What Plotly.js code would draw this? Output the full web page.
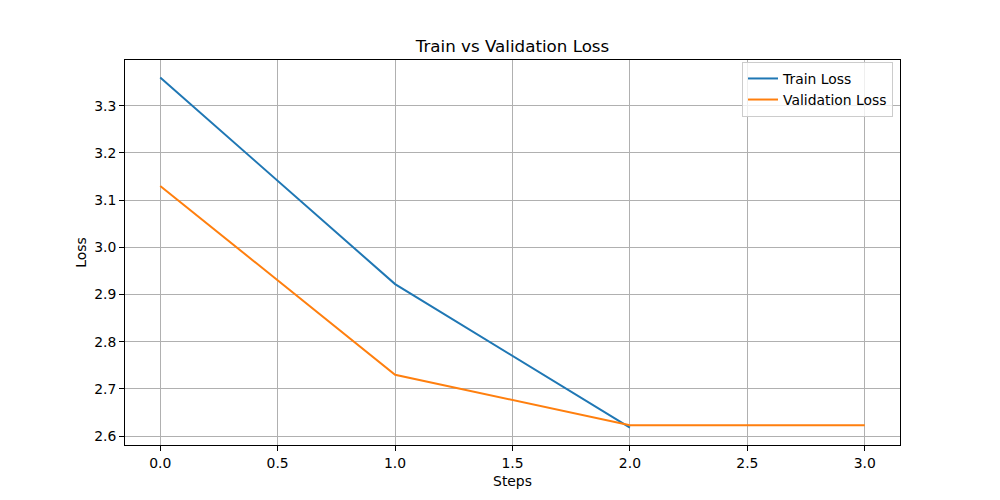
<!DOCTYPE html>
<html><head><meta charset="utf-8">
<script src="https://cdn.plot.ly/plotly-3.0.1.min.js"></script>
<style>html,body{margin:0;padding:0;background:#fff}#chart{width:1000px;height:500px}</style>
</head><body><div id="chart"></div>
<script>
const trainSteps = [0, 1, 2];
const trainLoss = [3.360, 2.922, 2.618];
const valSteps = [0, 1, 2, 3];
const valLoss = [3.130, 2.730, 2.623, 2.623];
const xTicks = [0, 0.5, 1, 1.5, 2, 2.5, 3];
const xTickLabels = ['0.0', '0.5', '1.0', '1.5', '2.0', '2.5', '3.0'];
const yTicks = [2.6, 2.7, 2.8, 2.9, 3.0, 3.1, 3.2, 3.3];
const yTickLabels = ['2.6', '2.7', '2.8', '2.9', '3.0', '3.1', '3.2', '3.3'];

const font = {family: 'DejaVu Sans', size: 13.9, color: '#000'};
const traces = [
  {x: trainSteps, y: trainLoss, mode: 'lines', name: 'Train Loss', line: {color: '#1f77b4', width: 2}},
  {x: valSteps, y: valLoss, mode: 'lines', name: 'Validation Loss', line: {color: '#ff7f0e', width: 2}}
];
const axisCommon = {
  showline: true, mirror: true, linecolor: '#000', linewidth: 1,
  ticks: 'outside', ticklen: 5, tickwidth: 1, tickcolor: '#000',
  showgrid: true, gridcolor: '#b0b0b0', gridwidth: 1, zeroline: false,
  tickfont: {family: 'DejaVu Sans', size: 13.9, color: '#000'}
};
const layout = {
  width: 1000, height: 500,
  paper_bgcolor: '#fff', plot_bgcolor: '#fff',
  margin: {l: 125, r: 100, t: 60, b: 55},
  font: font,
  title: {text: 'Train vs Validation Loss', x: 0.5125, xanchor: 'center', y: 0.908, yanchor: 'middle',
          font: {family: 'DejaVu Sans', size: 16.7, color: '#000'}},
  xaxis: Object.assign({}, axisCommon, {
    range: [-0.15, 3.15], tickvals: xTicks, ticktext: xTickLabels,
    title: {text: 'Steps', standoff: 6, font: font}
  }),
  yaxis: Object.assign({}, axisCommon, {
    range: [2.581, 3.397], tickvals: yTicks, ticktext: yTickLabels,
    title: {text: 'Loss', standoff: 4, font: font}
  }),
  showlegend: true,
  legend: {x: 0.991, xanchor: 'right', y: 0.995, yanchor: 'top',
           bgcolor: 'rgba(255,255,255,0.8)', bordercolor: '#cccccc', borderwidth: 1,
           font: font, tracegroupgap: 0}
};
Plotly.newPlot('chart', traces, layout, {displayModeBar: false, staticPlot: true});
</script></body></html>
